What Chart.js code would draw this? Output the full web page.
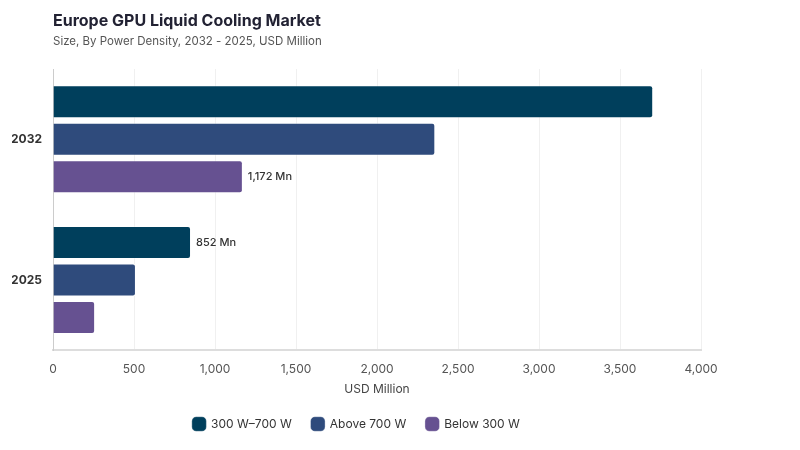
<!DOCTYPE html>
<html>
<head>
<meta charset="utf-8">
<script src="https://cdn.jsdelivr.net/npm/chart.js@4"></script>
<style>
  html, body { margin: 0; padding: 0; background: #ffffff; }
  #wrap { width: 800px; height: 450px; }
</style>
</head>
<body>
<div id="wrap"><canvas id="bar-chart"></canvas></div>
<script>
// chart data
var years = ["2032", "2025"];
var seriesNames = ["300 W\u2013700 W", "Above 700 W", "Below 300 W"];
var mid = [3705, 852];
var above = [2360, 512];
var below = [1172, 260];
var seriesColors = ["#003f5c", "#2f4b7c", "#665191"];
var xTicks = [0, 500, 1000, 1500, 2000, 2500, 3000, 3500, 4000];

// which bars carry a value label: [datasetIndex, categoryIndex]
var labelled = [[2, 0], [0, 1]];

var valueLabels = {
    id: "valueLabels",
    afterDatasetsDraw: function (chart) {
        var ctx = chart.ctx;
        ctx.save();
        ctx.font = "500 11px Inter, sans-serif";
        ctx.fillStyle = "#333333";
        ctx.textBaseline = "middle";
        ctx.textAlign = "left";
        labelled.forEach(function (p) {
            var bar = chart.getDatasetMeta(p[0]).data[p[1]];
            var v = chart.data.datasets[p[0]].data[p[1]];
            ctx.fillText(v.toLocaleString("en-US") + " Mn", bar.x + 5, bar.y);
        });
        ctx.restore();
    }
};

var ctx = document.getElementById("bar-chart").getContext("2d");
var allData = [mid, above, below];

var myChart = new Chart(ctx, {
    type: "bar",
    data: {
        labels: years,
        datasets: seriesNames.map(function (name, i) {
            return {
                label: name,
                data: allData[i],
                backgroundColor: seriesColors[i],
                borderColor: "rgba(255,255,255,0.35)",
                borderWidth: 1,
                borderRadius: 3,
                borderSkipped: "start",
                categoryPercentage: 0.8,
                barPercentage: 0.88
            };
        })
    },
    options: {
        indexAxis: "y",
        responsive: true,
        maintainAspectRatio: false,
        animation: false,
        layout: { padding: { top: 10, left: 12, right: 99, bottom: 10 } },
        scales: {
            x: {
                min: 0,
                max: 4000,
                afterBuildTicks: function (axis) {
                    axis.ticks = xTicks.map(function (v) { return { value: v }; });
                },
                ticks: {
                    color: "#555555",
                    font: { family: "Inter, sans-serif", size: 12 },
                    padding: 12,
                    callback: function (v) { return v.toLocaleString("en-US"); }
                },
                grid: { color: "#f0f0f0", drawTicks: false },
                border: { color: "#dddddd", width: 2 },
                title: {
                    display: true,
                    text: "USD Million",
                    color: "#444444",
                    font: { family: "Inter, sans-serif", size: 12 },
                    padding: { top: -6, bottom: 1 }
                }
            },
            y: {
                afterFit: function (axis) { axis.width = 41; },
                ticks: {
                    color: "#333333",
                    font: { family: "Inter, sans-serif", size: 12, weight: "bold" },
                    padding: 11
                },
                grid: { display: false, drawTicks: false },
                border: { color: "#cccccc", width: 1 }
            }
        },
        plugins: {
            title: {
                display: true,
                text: "Europe GPU Liquid Cooling Market",
                align: "start",
                fullSize: false,
                color: "#222233",
                font: { family: "Inter, sans-serif", size: 16, weight: "bold" },
                padding: { top: 2, bottom: 3 }
            },
            subtitle: {
                display: true,
                text: "Size, By Power Density, 2032 - 2025, USD Million",
                align: "start",
                fullSize: false,
                color: "#555555",
                font: { family: "Inter, sans-serif", size: 11.5 },
                padding: { top: 0, bottom: 21 }
            },
            legend: {
                position: "bottom",
                labels: {
                    usePointStyle: true,
                    pointStyle: "rectRounded",
                    boxWidth: 14,
                    boxHeight: 14,
                    padding: 20,
                    color: "#333333",
                    font: { family: "Inter, sans-serif", size: 12 }
                }
            },
            tooltip: { enabled: false }
        }
    },
    plugins: [valueLabels]
});
</script>
</body>
</html>
